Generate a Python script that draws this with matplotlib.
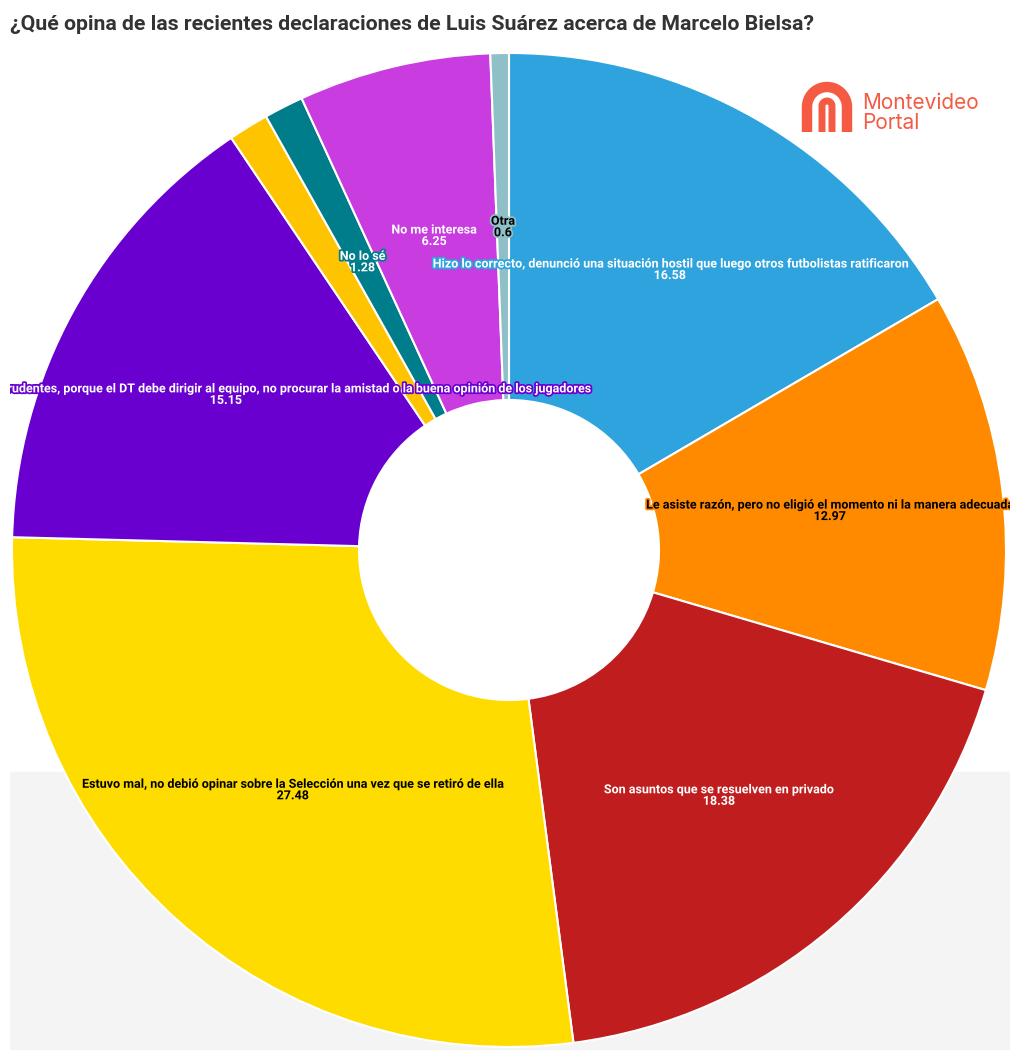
import matplotlib
matplotlib.use("Agg")
import matplotlib.pyplot as plt
import matplotlib.patheffects as pe
import numpy as np

# Survey answers, clockwise from 12 o'clock
categories = [
    "Hizo lo correcto, denunció una situación hostil que luego otros futbolistas ratificaron",
    "Le asiste razón, pero no eligió el momento ni la manera adecuada",
    "Son asuntos que se resuelven en privado",
    "Estuvo mal, no debió opinar sobre la Selección una vez que se retiró de ella",
    "Fueron declaraciones imprudentes, porque el DT debe dirigir al equipo, no procurar la amistad o la buena opinión de los jugadores",
    "Sin respuesta",
    "No lo sé",
    "No me interesa",
    "Otra",
]
values = [16.58, 12.97, 18.38, 27.48, 15.15, 1.31, 1.28, 6.25, 0.6]
shown = [True, True, True, True, True, False, True, True, True]
colors = ["#2ea3dd", "#ff8a00", "#c01e1e", "#ffdc00", "#6a00d0",
          "#ffc400", "#007d8a", "#c83ce0", "#8fc0c8"]
text_colors = ["white", "black", "white", "black", "white",
               "black", "white", "white", "black"]

title = "¿Qué opina de las recientes declaraciones de Luis Suárez acerca de Marcelo Bielsa?"

W, H = 1020, 1061
fig = plt.figure(figsize=(W / 100, H / 100), dpi=100)
fig.patch.set_facecolor("white")

# axes in pixel units (y measured up from the bottom of the figure)
ax = fig.add_axes([10 / W, 11 / H, 1000 / W, 1040 / H])
ax.axhspan(11, 289, color="#f4f4f4", zorder=0)

wedges, texts = ax.pie(
    values,
    labels=categories,
    colors=colors,
    startangle=90,
    counterclock=False,
    center=(509, 1061 - 550),
    radius=497,
    labeldistance=0.65,
    explode=[0.008] * len(values),
    wedgeprops=dict(width=347, edgecolor="white", linewidth=1.5, zorder=2),
    normalize=True,
)

for t, cat, val, show, c, tc in zip(texts, categories, values, shown, colors, text_colors):
    if not show:
        t.set_text("")
        continue
    t.set_text(f"{cat}\n{val:g}")
    t.set_ha("center")
    t.set_va("center")
    t.set_multialignment("center")
    t.set_fontsize(9)
    t.set_fontweight("bold")
    t.set_family("Roboto")
    t.set_color(tc)
    t.set_linespacing(0.85)
    t.set_zorder(5)
    t.set_clip_on(True)
    t.set_path_effects([pe.withStroke(linewidth=2.5, foreground=c)])

ax.set_xlim(10, 1010)
ax.set_ylim(11, 1051)
ax.set_aspect("auto")
ax.axis("off")

# Montevideo Portal logo
logo = "#f55a42"
th = np.linspace(0, np.pi, 40)
ax.plot(np.r_[847, 827 + 20 * np.cos(th), 807],
        np.r_[1061 - 132, 1061 - 107 + 20 * np.sin(th), 1061 - 132],
        color=logo, lw=7.5, solid_capstyle="butt", clip_on=False, zorder=6)
ax.plot(np.r_[832, 827 + 5 * np.cos(th), 822],
        np.r_[1061 - 132, 1061 - 106 + 5 * np.sin(th), 1061 - 132],
        color=logo, lw=5, solid_capstyle="butt", clip_on=False, zorder=6)
ax.text(862, 1061 - 103, "Montevideo", color=logo, fontsize=15, family="Inter",
        ha="left", va="center", zorder=6)
ax.text(862, 1061 - 123, "Portal", color=logo, fontsize=15, family="Inter",
        ha="left", va="center", zorder=6)

fig.text(10 / W, 1 - 25 / H, title, fontsize=15.3, fontweight="bold", color="#333333",
         family="Roboto", ha="left", va="center")

fig.savefig("out.png", dpi=100)
